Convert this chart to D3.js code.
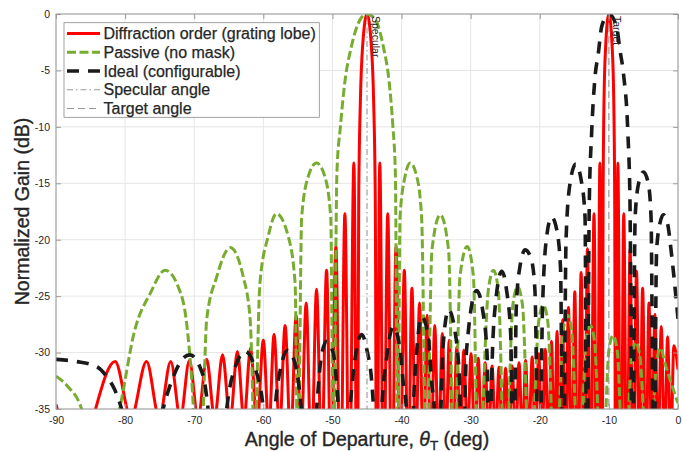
<!DOCTYPE html>
<html>
<head>
<meta charset="utf-8">
<script src="https://cdn.jsdelivr.net/npm/d3@7"></script>
<style>
  body { margin: 0; background: #fff; }
  svg { display: block; }
  text { font-family: "Liberation Sans", Arial, Helvetica, sans-serif; fill: #262626; }
</style>
</head>
<body>
<svg id="chart" width="686" height="452"></svg>
<script>
// ---- axis ticks ----
const xTicks = [-90, -80, -70, -60, -50, -40, -30, -20, -10, 0];
const yTicks = [-35, -30, -25, -20, -15, -10, -5, 0];

// ---- reference angles (deg) ----
const specularAngle = -45;
const targetAngle = -10;

// ---- Diffraction order (grating lobe): knots of the pattern, angle (deg) / gain (dB) ----
const diffractionAngle = [
  -90, -87.0, -81.45, -79.15, -76.9, -75.05, -73.4, -72.0, -70.7, -69.45, -68.2, -67.05,
  -65.9, -64.8, -63.75, -62.8, -61.85, -60.9, -60.0, -59.2, -58.45, -57.65, -56.85, -56.05,
  -55.25, -54.55, -53.8, -53.05, -52.3, -51.55, -50.85, -50.2, -49.5, -48.85, -48.2, -47.55,
  -46.9, -46.4, -46.2, -45.95, -45.65, -45.0, -44.35, -44.05, -43.8, -43.6,
  -43.15, -42.6, -42.0, -41.4, -40.8, -40.2, -39.6, -39.05, -38.5, -37.95, -37.4, -36.85,
  -36.3, -35.75, -35.2, -34.65, -34.1, -33.6, -33.1, -32.55, -32.0, -31.5, -31.0, -30.45,
  -29.95, -29.4, -28.9, -28.4, -27.9, -27.4, -26.9, -26.4, -25.9, -25.4, -24.95, -24.45,
  -24.0, -23.5, -23.0, -22.5, -22.05, -21.6, -21.1, -20.65, -20.15, -19.7, -19.2, -18.75,
  -18.3, -17.9, -17.5, -17.1, -16.7, -16.3, -15.85, -15.4, -14.93, -14.5, -14.02, -13.55,
  -13.1, -12.65, -12.15, -11.72, -11.3, -10.97, -10.84, -10.7, -10.48, -10.0, -9.52, -9.3,
  -9.16, -9.03, -8.7, -8.28, -7.85, -7.4, -6.93, -6.5, -6.0, -5.55, -5.12, -4.65,
  -4.2, -3.8, -3.33, -2.9, -2.42, -1.95, -1.5, -1.05, -0.6, 0
];
const diffractionGain = [
  -34.6, -39, -30.8, -35.8, -30.8, -35.8, -30.8, -35.8, -30.7, -35.8, -30.6, -35.8,
  -30.2, -36, -29.9, -36, -29.6, -36.5, -28.9, -37, -28.4, -37, -27.6, -38,
  -26.7, -38, -25.6, -40, -24.4, -40, -22.7, -42, -20.6, -45, -17.7, -45,
  -13.2, -50, -16.5, -7.5, -3.0, 0, -3.0, -7.5, -16.5, -50,
  -13.2, -45, -17.7, -45, -20.6, -42, -22.7, -42, -24.3, -40, -25.6, -40,
  -26.7, -40, -27.6, -39, -28.3, -39, -28.9, -38.5, -29.5, -38.5, -29.8, -38,
  -30.1, -38, -30.5, -38, -30.9, -38, -31.2, -38, -31.3, -38, -31.4, -38,
  -31.2, -38, -30.9, -38, -30.7, -38, -30.4, -38, -30.1, -38.5, -29.7, -39,
  -29.0, -40, -28.1, -40, -27.1, -42, -26.0, -42, -24.6, -45, -22.9, -45,
  -20.8, -45, -17.7, -50, -13.2, -50, -16.5, -7.5, -3.0, 0, -3.0, -7.5,
  -16.5, -50, -13.2, -50, -17.7, -45, -20.8, -45, -22.8, -42, -24.3, -42,
  -25.6, -40, -26.6, -40, -27.7, -39, -28.6, -39, -29.4, -31.5
];

// ---- Passive (no mask) ----
const passiveAngle = [
  -90, -88.3, -86.3, -84.0, -80.8, -78.6, -76.4, -74.2, -72.3, -71.1, -70.3, -69.5,
  -68.7, -68.2, -66.75, -64.8, -62.9, -61.9, -61.5, -61.25, -61.0, -60.5, -59.3, -58.1,
  -56.4, -55.4, -55.0, -54.45, -53.5, -52.3, -51.1, -50.25, -49.85, -49.35, -48.85, -48.2,
  -47.3, -46.0, -45.0, -43.8, -42.6, -41.8, -41.25, -40.9, -40.55, -40.22, -39.5, -38.75,
  -37.8, -37.1, -36.4, -35.6, -34.4, -33.2, -32.4, -31.55, -30.5, -29.6, -28.9, -27.45,
  -26.7, -26.0, -25.0, -23.9, -23.2, -22.5, -21.4, -20.15, -19.5, -18.85, -17.8, -16.6,
  -16.0, -15.4, -14.3, -13.3, -12.7, -12.1, -11.0, -10.0, -9.4, -8.8, -7.8, -6.7,
  -6.1, -5.5, -4.3, -3.1, -2.5, -1.9, 0
];
const passiveGain = [
  -32.1, -33.0, -35.0, -42, -35.0, -28.0, -24.8, -22.7, -24.2, -27.4, -33.0, -42,
  -35.0, -27.1, -23.3, -20.7, -23.3, -27.1, -35.0, -42, -35.0, -23.9, -19.7, -17.7,
  -19.7, -23.9, -42, -18.0, -14.4, -13.2, -14.4, -18.0, -42, -14.0, -10.0, -6.0,
  -3.0, -0.5, 0, -0.5, -3.0, -6.0, -10.0, -14.0, -42, -18.0, -14.4, -13.2,
  -14.4, -18.0, -42, -20.9, -17.8, -20.9, -42, -23.3, -20.6, -23.3, -42, -24.5,
  -22.7, -24.5, -42, -25.8, -24.2, -25.8, -42, -27.2, -25.8, -27.2, -42, -28.0,
  -26.7, -28.0, -42, -28.9, -27.6, -28.9, -42, -29.8, -28.5, -29.8, -42, -30.4,
  -29.1, -30.4, -42, -30.9, -29.6, -30.9, -34.5
];

// ---- Ideal (configurable) ----
const idealAngle = [
  -90, -87.0, -84.1, -82.7, -81.5, -80.5, -77.4,
  -74.5, -73.0, -71.6, -70.6, -69.2, -68.4, -68.0, -66.6,
  -65.3, -63.9, -62.6, -61.3, -60.0, -59.2,
  -58.3, -57.35, -56.5, -55.4, -54.5, -53.4,
  -52.3, -51.55, -50.83, -49.87, -49.15, -48.3,
  -47.45, -46.7, -45.77, -45.0, -44.3, -44.05, -43.5,
  -42.87, -42.15, -41.2, -40.2, -39.75, -39.3, -38.8,
  -38.3, -37.8, -37.1, -36.13, -35.64, -35.25, -34.8,
  -34.3, -34.0, -33.2, -32.3, -31.6, -31.2,
  -30.85, -30.6, -29.13, -28.2, -27.6, -27.3,
  -26.9, -26.4, -25.5, -24.8, -24.2, -23.8,
  -23.4, -22.9, -22.1, -21.2, -20.7, -20.1,
  -19.6, -19.0, -18.3, -17.55, -17.0, -16.6,
  -16.2, -15.62, -14.8, -13.93, -13.45, -13.2,
  -12.83, -12.5, -12.0, -11.53, -11.04, -10.0, -8.9, -8.4, -7.9, -7.25, -6.95, -6.6,
  -6.2, -5.7, -5.0, -4.3, -3.9, -3.5,
  -3.1, -2.6, -2.1, -1.5, -0.9, 0
];
const idealGain = [
  -30.6, -30.8, -31.25, -32.1, -33.3, -35.0, -45,
  -35.0, -32.1, -30.5, -30.2, -31.25, -33.0, -35.0, -45,
  -35.0, -31.0, -29.9, -31.2, -35.0, -45,
  -35.0, -31.0, -29.8, -31.0, -35.0, -45,
  -35.0, -30.1, -29.0, -30.1, -34.8, -45,
  -35.0, -30.4, -28.4, -29.8, -32.7, -35.0, -45,
  -35.0, -30.4, -27.7, -29.8, -32.7, -35.0, -45,
  -35.0, -29.8, -26.8, -28.6, -32.7, -35.0, -45,
  -35.0, -29.5, -26.2, -28.0, -32.7, -45,
  -35.0, -29.8, -24.5, -26.5, -30.5, -45,
  -31.0, -25.6, -22.8, -24.5, -28.5, -45,
  -26.0, -22.5, -20.9, -21.8, -24.5, -45,
  -26.0, -19.7, -18.0, -19.1, -22.5, -45,
  -20.0, -15.0, -13.3, -15.0, -18.0, -45,
  -16.5, -10.6, -5.55, -3.5, -1.1, 0, -1.1, -3.2, -5.25, -10.6, -16.5, -45,
  -18.0, -15.0, -14.0, -15.0, -18.0, -45,
  -21.0, -18.5, -17.8, -18.6, -21.5, -27.0
];

const legendLabels = [
  "Diffraction order (grating lobe)",
  "Passive (no mask)",
  "Ideal (configurable)",
  "Specular angle",
  "Target angle"
];

// ---- layout ----
const box = { left: 56, right: 678, top: 14, bottom: 409 };
const axisColor = "#9a9a9a";
const gridColor = "#e6e6e6";
const inkColor = "#262626";

const svg = d3.select("#chart");
const x = d3.scaleLinear().domain([-90, 0]).range([box.left, box.right]);
const y = d3.scaleLinear().domain([-35, 0]).range([box.bottom, box.top]);

// grid
const grid = svg.append("g");
grid.selectAll("line.gx").data(xTicks).join("line")
  .attr("x1", d => x(d)).attr("x2", d => x(d))
  .attr("y1", box.top).attr("y2", box.bottom)
  .attr("stroke", gridColor).attr("stroke-width", 1);
grid.selectAll("line.gy").data(yTicks).join("line")
  .attr("x1", box.left).attr("x2", box.right)
  .attr("y1", d => y(d)).attr("y2", d => y(d))
  .attr("stroke", gridColor).attr("stroke-width", 1);

// clip for the curves
svg.append("defs").append("clipPath").attr("id", "plotClip")
  .append("rect")
  .attr("x", box.left).attr("y", box.top)
  .attr("width", box.right - box.left).attr("height", box.bottom - box.top);

const zip = (a, b) => a.map((v, i) => [v, b[i]]);
const pattern = d3.line()
  .x(d => x(d[0])).y(d => y(d[1]))
  .curve(d3.curveMonotoneX);

const series = [
  { angle: diffractionAngle, gain: diffractionGain, color: "#ff0000", width: 3, dash: null },
  { angle: passiveAngle, gain: passiveGain, color: "#77ac30", width: 3, dash: "9,3.5" },
  { angle: idealAngle, gain: idealGain, color: "#1a1a1a", width: 3.6, dash: "12,9" }
];

const curves = svg.append("g").attr("clip-path", "url(#plotClip)");
series.forEach(s => {
  curves.append("path")
    .datum(zip(s.angle, s.gain))
    .attr("d", pattern)
    .attr("fill", "none")
    .attr("stroke", s.color)
    .attr("stroke-width", s.width)
    .attr("stroke-dasharray", s.dash)
    .attr("stroke-linejoin", "round");
});

// specular / target markers
const markers = [
  { angle: specularAngle, label: "Specular", dash: "6,3,1.5,3" },
  { angle: targetAngle, label: "Target", dash: "7,4" }
];
const mk = svg.append("g");
markers.forEach(m => {
  mk.append("line")
    .attr("x1", x(m.angle)).attr("x2", x(m.angle))
    .attr("y1", box.top).attr("y2", box.bottom)
    .attr("stroke", "#8c8c8c").attr("stroke-width", 1)
    .attr("stroke-dasharray", m.dash);
  mk.append("text")
    .attr("transform", `translate(${x(m.angle) + 4.6},${box.top + 2}) rotate(90)`)
    .attr("font-size", 10.5)
    .attr("fill", "#1a1a1a")
    .text(m.label);
});

// axes (inward ticks on all four sides)
const styleAxis = g => {
  g.select(".domain").remove();
  g.selectAll(".tick line").attr("stroke", axisColor);
  g.selectAll(".tick text").attr("fill", inkColor)
    .attr("font-size", 10.5)
    .attr("font-family", '"Liberation Sans", Arial, sans-serif');
};
svg.append("g").attr("transform", `translate(0,${box.bottom})`)
  .call(d3.axisBottom(x).tickValues(xTicks).tickSize(-5).tickPadding(8).tickFormat(d3.format("d")))
  .call(styleAxis);
svg.append("g").attr("transform", `translate(0,${box.top})`)
  .call(d3.axisTop(x).tickValues(xTicks).tickSize(-5).tickFormat(""))
  .call(styleAxis);
svg.append("g").attr("transform", `translate(${box.left},0)`)
  .call(d3.axisLeft(y).tickValues(yTicks).tickSize(-5).tickPadding(6).tickFormat(d3.format("d")))
  .call(styleAxis);
svg.append("g").attr("transform", `translate(${box.right},0)`)
  .call(d3.axisRight(y).tickValues(yTicks).tickSize(-5).tickFormat(""))
  .call(styleAxis);

// plain hyphen for negative tick labels
svg.selectAll(".tick text").text(function () { return this.textContent.replace("\u2212", "-"); });

// frame
svg.append("rect")
  .attr("x", box.left).attr("y", box.top)
  .attr("width", box.right - box.left).attr("height", box.bottom - box.top)
  .attr("fill", "none").attr("stroke", axisColor).attr("stroke-width", 1);

// axis titles
const xt = svg.append("text")
  .attr("x", (box.left + box.right) / 2).attr("y", 446)
  .attr("text-anchor", "middle").attr("font-size", 19.5)
  .attr("stroke", inkColor).attr("stroke-width", 0.35);
xt.append("tspan").text("Angle of Departure, ");
xt.append("tspan").attr("font-style", "italic").text("θ");
xt.append("tspan").attr("font-size", 13.5).attr("dy", 4).text("T");
xt.append("tspan").attr("dy", -4).text(" (deg)");

svg.append("text")
  .attr("transform", `translate(28.5,${(box.top + box.bottom) / 2}) rotate(-90)`)
  .attr("text-anchor", "middle").attr("font-size", 19.5)
  .attr("stroke", inkColor).attr("stroke-width", 0.35)
  .text("Normalized Gain (dB)");

// legend
const lg = svg.append("g");
lg.append("rect")
  .attr("x", 64).attr("y", 22.7).attr("width", 255.3).attr("height", 94.6)
  .attr("fill", "#fff").attr("stroke", "#8a8a8a").attr("stroke-width", 0.8);
const legendStyles = [
  { color: "#ff0000", width: 3, dash: null },
  { color: "#77ac30", width: 3, dash: "9,3.5" },
  { color: "#1a1a1a", width: 3.6, dash: "12,9" },
  { color: "#9a9a9a", width: 1, dash: "6,3,1.5,3" },
  { color: "#9a9a9a", width: 1, dash: "7,4" }
];
legendLabels.forEach((label, i) => {
  const ry = 33.5 + i * 18.75;
  lg.append("line")
    .attr("x1", 67).attr("x2", 100).attr("y1", ry).attr("y2", ry)
    .attr("stroke", legendStyles[i].color)
    .attr("stroke-width", legendStyles[i].width)
    .attr("stroke-dasharray", legendStyles[i].dash);
  lg.append("text")
    .attr("x", 103.5).attr("y", ry + 5.7)
    .attr("font-size", 16)
    .attr("stroke", inkColor).attr("stroke-width", 0.25)
    .text(label);
});
</script>
</body>
</html>
